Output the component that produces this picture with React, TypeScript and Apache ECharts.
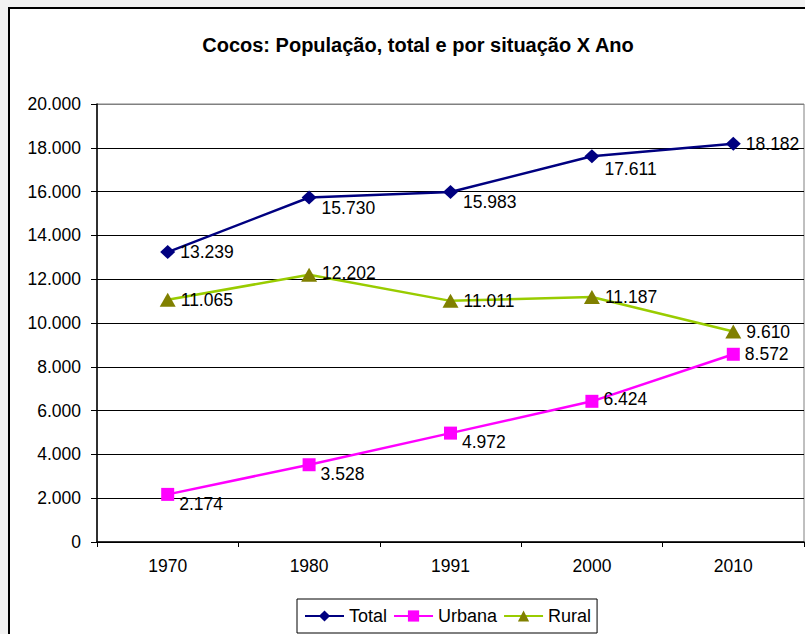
import React, { useEffect, useRef } from 'react';
import * as echarts from 'echarts';

const categories = ['1970', '1980', '1991', '2000', '2010'];
const totalValues = [13239, 15730, 15983, 17611, 18182];
const urbanaValues = [2174, 3528, 4972, 6424, 8572];
const ruralValues = [11065, 12202, 11011, 11187, 9610];

// label vertical nudges (styling only)
const totalLabelDy = [0, 10, 10, 13, 0];
const urbanaLabelDy = [10, 9, 9, -2, 0];
const ruralLabelDy = [0, -2, 0, 0, 0];

const FONT = "'Liberation Sans', Arial, Helvetica, sans-serif";

const fmt = (n: number) => String(n).replace(/\B(?=(\d{3})+(?!\d))/g, '.');

function buildSeries(name: string, values: number[], dys: number[], symbol: string, symbolSize: any, lineColor: string, markColor: string) {
  return {
    name,
    type: 'line',
    data: values.map((v, i) => ({ value: v, label: { offset: [0, dys[i]] } })),
    symbol,
    symbolSize,
    showAllSymbol: true,
    lineStyle: { color: lineColor, width: 2.5 },
    itemStyle: { color: markColor },
    label: {
      show: true,
      position: 'right',
      distance: 5,
      formatter: (p: any) => fmt(p.value),
      color: '#000',
      fontSize: 17.5,
      fontFamily: FONT,
    },
    emphasis: { disabled: true },
  };
}

export default function App() {
  const ref = useRef<HTMLDivElement>(null);
  useEffect(() => {
    if (!ref.current) return;
    const chart = echarts.init(ref.current, undefined, { renderer: 'svg' });
    const splitColors = Array.from({ length: 11 }, (_, i) => (i === 10 ? '#808080' : '#000'));
    chart.setOption({
      animation: false,
      textStyle: { fontFamily: FONT },
      title: {
        text: 'Cocos: População, total e por situação X Ano',
        left: 413,
        top: 30,
        textAlign: 'center',
        textStyle: { fontSize: 20, fontWeight: 'bold', color: '#000', fontFamily: FONT },
      },
      legend: {
        left: 297,
        top: 599,
        padding: [8, 6, 8, 7],
        itemGap: 6,
        itemWidth: 39,
        itemHeight: 14,
        borderColor: '#000',
        borderWidth: 1,
        backgroundColor: '#fff',
        borderRadius: 0,
        textStyle: { fontSize: 18, color: '#000', fontFamily: FONT },
        data: ['Total', 'Urbana', 'Rural'],
      },
      grid: {
        left: 97,
        right: 1,
        top: 104,
        bottom: 92,
        show: true,
        borderColor: '#808080',
        borderWidth: 1,
        backgroundColor: 'transparent',
      },
      xAxis: {
        type: 'category',
        data: categories,
        boundaryGap: true,
        axisLine: { show: true, lineStyle: { color: '#000', width: 1.5 } },
        axisTick: { show: true, length: 5, lineStyle: { color: '#000' } },
        axisLabel: { color: '#000', fontSize: 17.5, margin: 15, fontFamily: FONT },
      },
      yAxis: {
        type: 'value',
        min: 0,
        max: 20000,
        interval: 2000,
        axisLine: { show: true, lineStyle: { color: '#000', width: 1.5 } },
        axisTick: { show: true, length: 6, lineStyle: { color: '#000' } },
        axisLabel: { color: '#000', fontSize: 17.5, margin: 16, formatter: (v: number) => fmt(v), fontFamily: FONT },
        splitLine: { show: true, lineStyle: { color: splitColors, width: 1 } },
      },
      series: [
        buildSeries('Total', totalValues, totalLabelDy, 'diamond', [15, 14], '#000080', '#000080'),
        buildSeries('Urbana', urbanaValues, urbanaLabelDy, 'rect', 13, '#FF00FF', '#FF00FF'),
        buildSeries('Rural', ruralValues, ruralLabelDy, 'triangle', [16, 14], '#99CC00', '#808000'),
      ],
    });
    return () => chart.dispose();
  }, []);

  return (
    <div style={{ position: 'fixed', left: 0, top: 0, width: 805, height: 634, background: '#f2f2f2', overflow: 'hidden' }}>
      <div style={{ position: 'absolute', left: 8, top: 7, width: 830, height: 660, border: '2px solid #000', background: '#fff' }} />
      <div ref={ref} style={{ position: 'absolute', left: 0, top: 0, width: 805, height: 634 }} />
    </div>
  );
}
